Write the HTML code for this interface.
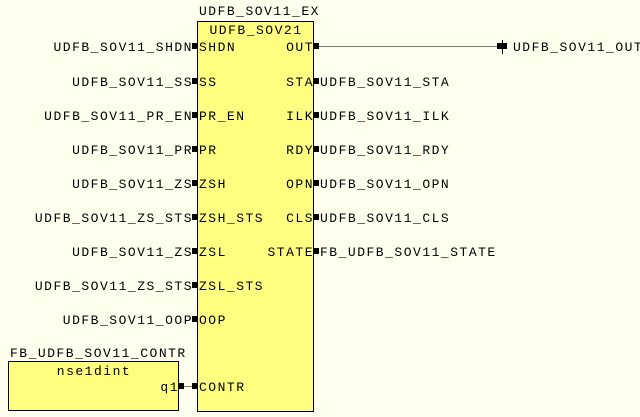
<!DOCTYPE html>
<html><head><style>
html,body{margin:0;padding:0;background:#ffffee;}
svg{display:block}
text{font-family:"Liberation Mono","Courier New",monospace;font-size:13px;letter-spacing:1.5px;fill:#000}
</style></head><body>
<svg width="640" height="417" viewBox="0 0 640 417" xmlns="http://www.w3.org/2000/svg">
<rect width="640" height="417" fill="#ffffee"/>
<!-- main block -->
<text x="199" y="15">UDFB_SOV11_EX</text>
<rect x="197.5" y="21.5" width="116" height="390" fill="#ffff80" stroke="#000"/>
<text x="256" y="34" text-anchor="middle">UDFB_SOV21</text>
<!-- small block -->
<text x="10" y="357">FB_UDFB_SOV11_CONTR</text>
<rect x="8.5" y="361.5" width="170" height="49" fill="#ffff80" stroke="#000"/>
<text x="94" y="375" text-anchor="middle">nse1dint</text>
<g fill="#000">
<rect x="192" y="43" width="6" height="6"/><rect x="192" y="78" width="6" height="6"/>
<rect x="192" y="112" width="6" height="6"/><rect x="192" y="146" width="6" height="6"/>
<rect x="192" y="180" width="6" height="6"/><rect x="192" y="214" width="6" height="6"/>
<rect x="192" y="248" width="6" height="6"/><rect x="192" y="282" width="6" height="6"/>
<rect x="192" y="316" width="6" height="6"/><rect x="192" y="383" width="6" height="6"/>
<rect x="313" y="43" width="6" height="6"/><rect x="313" y="78" width="6" height="6"/>
<rect x="313" y="112" width="6" height="6"/><rect x="313" y="146" width="6" height="6"/>
<rect x="313" y="180" width="6" height="6"/><rect x="313" y="214" width="6" height="6"/>
<rect x="313" y="248" width="6" height="6"/>
<rect x="178" y="383" width="6" height="6"/>
<rect x="497" y="43" width="10" height="6"/>
</g>
<g stroke="#777" stroke-width="1">
<line x1="319" y1="46.5" x2="497" y2="46.5"/>
<line x1="184" y1="386.5" x2="192" y2="386.5"/>
</g>
<line x1="502.5" y1="40" x2="502.5" y2="54" stroke="#000"/>
<g>
<text x="199" y="51">SHDN</text><text x="199" y="86">SS</text>
<text x="199" y="120">PR_EN</text><text x="199" y="154">PR</text>
<text x="199" y="188">ZSH</text><text x="199" y="222">ZSH_STS</text>
<text x="199" y="256">ZSL</text><text x="199" y="290">ZSL_STS</text>
<text x="199" y="324">OOP</text><text x="199" y="391">CONTR</text>
</g>
<g text-anchor="end">
<text x="314" y="51">OUT</text><text x="314" y="86">STA</text>
<text x="314" y="120">ILK</text><text x="314" y="154">RDY</text>
<text x="314" y="188">OPN</text><text x="314" y="222">CLS</text>
<text x="314" y="256">STATE</text>
<text x="193" y="51">UDFB_SOV11_SHDN</text>
<text x="193" y="86">UDFB_SOV11_SS</text>
<text x="193" y="120">UDFB_SOV11_PR_EN</text>
<text x="193" y="154">UDFB_SOV11_PR</text>
<text x="193" y="188">UDFB_SOV11_ZS</text>
<text x="193" y="222">UDFB_SOV11_ZS_STS</text>
<text x="193" y="256">UDFB_SOV11_ZS</text>
<text x="193" y="290">UDFB_SOV11_ZS_STS</text>
<text x="193" y="324">UDFB_SOV11_OOP</text>
<text x="179" y="391">q1</text>
</g>
<g>
<text x="320" y="86">UDFB_SOV11_STA</text>
<text x="320" y="120">UDFB_SOV11_ILK</text>
<text x="320" y="154">UDFB_SOV11_RDY</text>
<text x="320" y="188">UDFB_SOV11_OPN</text>
<text x="320" y="222">UDFB_SOV11_CLS</text>
<text x="320" y="256">FB_UDFB_SOV11_STATE</text>
<text x="513" y="51">UDFB_SOV11_OUT</text>
</g>
</svg>
</body></html>
